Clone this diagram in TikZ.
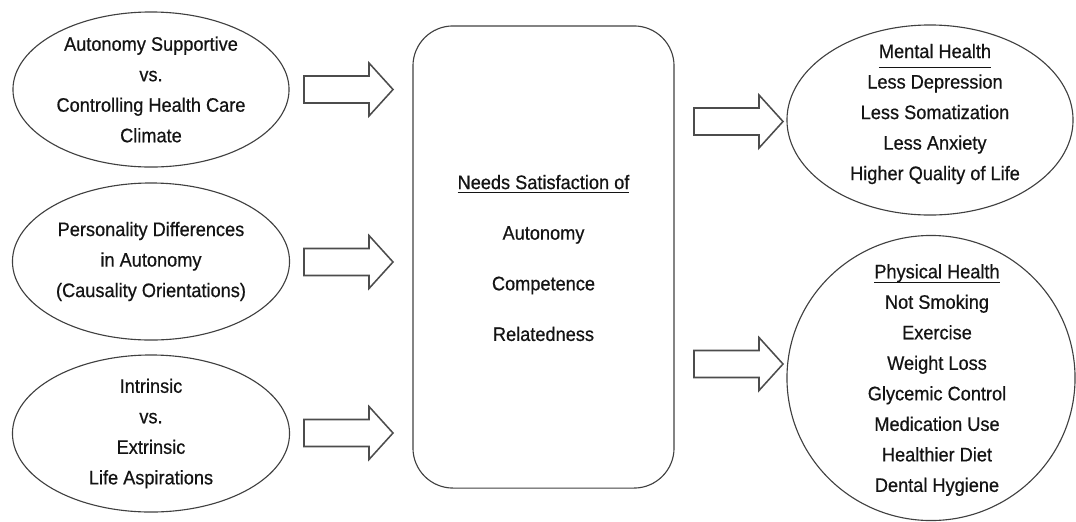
\documentclass[tikz,border=0pt]{standalone}
\usepackage{fontspec}
\setmainfont{Liberation Sans}[FakeStretch=0.93,FakeBold=0.6]
\usetikzlibrary{shapes.geometric}
% heading with a rule set a fixed distance below its baseline
\newcommand\headline[2]{\vtop{\hbox{\raisebox{0pt}[\height][0pt]{#2}}\kern#1\hrule height 0.7pt}}
\begin{document}
\begin{tikzpicture}[x=0.025cm,y=-0.025cm,
  outline/.style={draw=black!75, line width=0.8pt},
  oval/.style={outline, ellipse, inner sep=0pt},
  txt/.style={align=center, text=black!92, inner sep=0pt,
    font=\fontsize{13.9}{21.7}\selectfont},
  widetxt/.style={txt, font=\fontsize{13.9}{36}\selectfont},
  fat arrow/.pic={\draw[draw=black!70, line width=1.1pt, line join=miter]
    (0,-13.5) -- (65,-13.5) -- (65,-26.5) -- (89,0) -- (65,26.5)
    -- (65,13.5) -- (0,13.5) -- cycle;}]
\useasboundingbox (0,0) rectangle (1076,521);

% causes on the left
\node[oval, minimum width=6.9cm, minimum height=3.875cm] (climate) at (151,89.5) {};
\node[txt] (climateT) at (climate.center) {Autonomy Supportive\\vs.\\Controlling Health Care\\Climate};

\node[oval, minimum width=6.925cm, minimum height=3.925cm] (person) at (151,261.5) {};
\node[txt] (personT) at (person.center) {Personality Differences\\in Autonomy\\(Causality Orientations)};

\node[oval, minimum width=6.925cm, minimum height=3.925cm] (aspire) at (151,433.5) {};
\node[txt] (aspireT) at (aspire.center) {Intrinsic\\vs.\\Extrinsic\\Life Aspirations};

% mediator box
\node[outline, rectangle, rounded corners=1cm, minimum width=6.525cm,
  minimum height=11.55cm, inner sep=0pt] (needs) at (543.5,257) {};
\node[widetxt] (needsT) at (543.5,258) {\headline{2.4pt}{Needs Satisfaction of}\\Autonomy\\Competence\\Relatedness};

% outcomes on the right
\node[oval, minimum width=7.15cm, minimum height=4.75cm] (mental) at (930,120) {};
\node[txt] (mentalT) at (935,114) {\headline{6.2pt}{Mental Health}\\Less Depression\\Less Somatization\\Less Anxiety\\Higher Quality of Life};

\node[oval, minimum width=7.2cm, minimum height=7.125cm] (physical) at (931,378) {};
\node[txt] (physicalT) at (937,380) {\headline{2.6pt}{Physical Health}\\Not Smoking\\Exercise\\Weight Loss\\Glycemic Control\\Medication Use\\Healthier Diet\\Dental Hygiene};

% block arrows
\pic (a1) at (304,89.5) {fat arrow};
\pic (a2) at (304,262) {fat arrow};
\pic (a3) at (304,433) {fat arrow};
\pic (a4) at (694,121.5) {fat arrow};
\pic (a5) at (694,364) {fat arrow};
\end{tikzpicture}
\end{document}
